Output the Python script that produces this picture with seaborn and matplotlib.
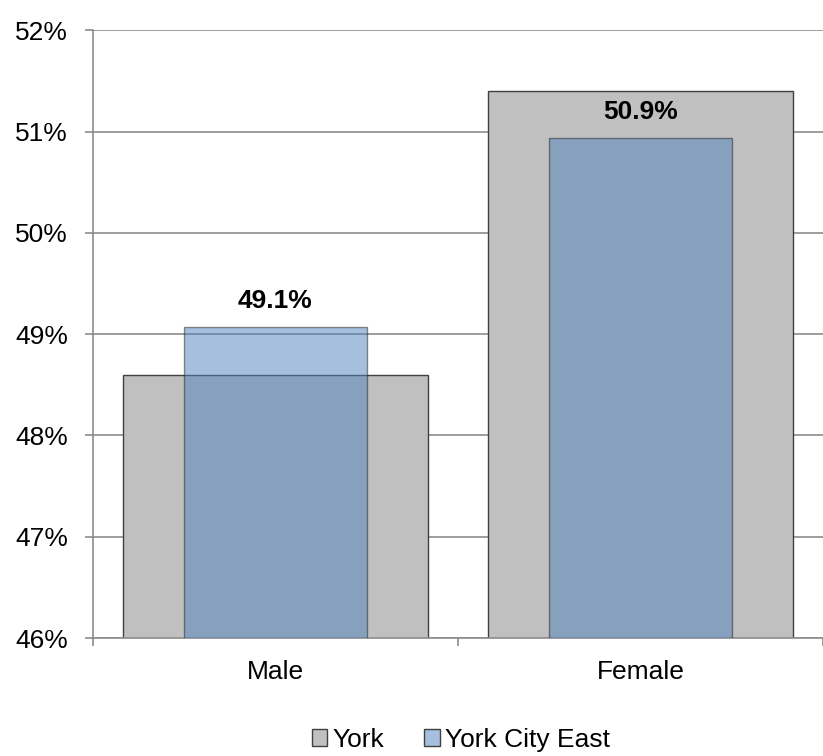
import matplotlib.pyplot as plt
import matplotlib.ticker as mticker
from matplotlib.patches import Patch
import seaborn as sns
import pandas as pd

# donnees
categories = ['Male', 'Female']
york = [48.6, 51.4]
york_city_east = [49.07, 50.94]
labels_east = ['49.1%', '50.9%']

df_york = pd.DataFrame({'sexe': categories, 'pct': york})
df_east = pd.DataFrame({'sexe': categories, 'pct': york_city_east})

sns.set_style('white')
plt.rcParams['font.family'] = ['Liberation Sans', 'DejaVu Sans']
plt.rcParams['text.color'] = 'black'
plt.rcParams['xtick.labelcolor'] = 'black'
plt.rcParams['ytick.labelcolor'] = 'black'

fig = plt.figure(figsize=(8.23, 7.56), dpi=100)
ax = fig.add_axes([0.113, 0.156, 0.887, 0.804])

# York (large barre grise)
sns.barplot(x='sexe', y='pct', data=df_york, order=categories, width=0.833,
            color='#C0C0C0', edgecolor='#404040', linewidth=1, saturation=1, ax=ax, zorder=2)
# York City East (barre bleue transparente)
sns.barplot(x='sexe', y='pct', data=df_east, order=categories, width=0.5,
            color='#4F81BD', alpha=0.5, edgecolor='#202020', linewidth=1, saturation=1, ax=ax, zorder=3)

for i, (v, lab) in enumerate(zip(york_city_east, labels_east)):
    ax.annotate(lab, (i, v), xytext=(0, 10), textcoords='offset points',
                ha='center', va='bottom', fontsize=19, fontweight='bold', color='black')

ax.set_ylim(46, 52)
ax.set_xlim(-0.5, 1.5)
ax.yaxis.set_major_locator(mticker.MultipleLocator(1))
ax.yaxis.set_major_formatter(mticker.FuncFormatter(lambda v, p: f'{v:.0f}%'))
ax.yaxis.grid(True, color='#8C8C8C', linewidth=1.2, zorder=0)
ax.set_axisbelow(True)

ax.set_xlabel('')
ax.set_ylabel('')
ax.xaxis.set_minor_locator(mticker.FixedLocator([-0.5, 0.5, 1.5]))
ax.tick_params(axis='x', which='major', length=0, labelsize=19, pad=16)
ax.tick_params(axis='x', which='minor', length=6, width=1.2, color='#8C8C8C', direction='out')
ax.tick_params(axis='y', length=6, width=1.2, color='#8C8C8C', direction='out', labelsize=19, pad=12)
ax.tick_params(bottom=True, left=True, which='both')

for s in ['top', 'right']:
    ax.spines[s].set_visible(False)
for s in ['left', 'bottom']:
    ax.spines[s].set_color('#8C8C8C')
    ax.spines[s].set_linewidth(1.2)

handles = [Patch(facecolor='#C0C0C0', edgecolor='#404040', label='York'),
           Patch(facecolor='#A7BFDF', edgecolor='#404040', label='York City East')]
fig.legend(handles=handles, loc='center', bbox_to_anchor=(0.56, 0.021), ncol=2, frameon=False,
           fontsize=19, handlelength=0.6, handleheight=0.6, handletextpad=0.2, columnspacing=1.5)

plt.savefig('out.png', dpi=100)
